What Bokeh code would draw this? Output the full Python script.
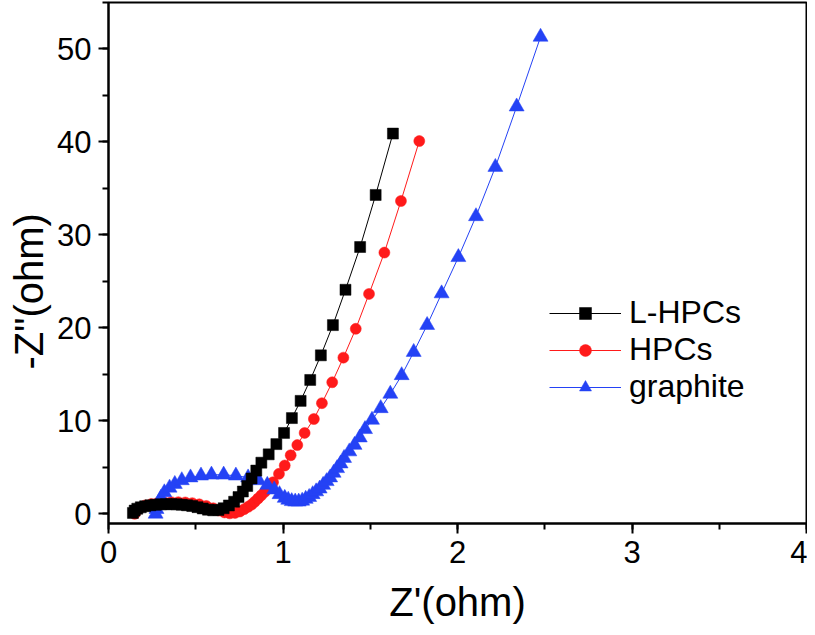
from bokeh.plotting import figure
from bokeh.models import (ColumnDataSource, Legend, LegendItem, Title,
                          SingleIntervalTicker, Range1d)
from bokeh.embed import file_html
from bokeh.resources import INLINE

# ---- data ----
lhpcs_x = [0.14, 0.15, 0.165, 0.185, 0.21, 0.24, 0.27, 0.30, 0.33, 0.36, 0.39, 0.42,
           0.45, 0.48, 0.51, 0.54, 0.57, 0.60, 0.63, 0.66, 0.69, 0.72, 0.745, 0.77,
           0.795, 0.82, 0.847, 0.876, 0.918, 0.962, 1.006, 1.051, 1.101, 1.156,
           1.217, 1.286, 1.358, 1.442, 1.531, 1.630]
lhpcs_y = [0.1, 0.35, 0.55, 0.7, 0.82, 0.92, 0.98, 1.02, 1.04, 1.04, 1.02, 0.98,
           0.92, 0.84, 0.72, 0.58, 0.45, 0.38, 0.42, 0.6, 0.9, 1.3, 1.8, 2.4,
           3.0, 3.8, 4.65, 5.5, 6.4, 7.5, 8.7, 10.3, 12.15, 14.4,
           17.05, 20.3, 24.1, 28.7, 34.3, 40.9]

hpcs_x = [0.15, 0.16, 0.18, 0.21, 0.245, 0.28, 0.32, 0.36, 0.40, 0.44, 0.48, 0.52,
          0.56, 0.60, 0.635, 0.665, 0.695, 0.725, 0.752, 0.778, 0.80, 0.82, 0.838,
          0.857, 0.876, 0.895, 0.914, 0.943, 0.977, 1.01, 1.044, 1.082, 1.124,
          1.177, 1.223, 1.282, 1.346, 1.417, 1.493, 1.581, 1.676, 1.781]
hpcs_y = [0.0, 0.35, 0.65, 0.9, 1.05, 1.15, 1.22, 1.25, 1.25, 1.22, 1.15, 1.02,
          0.85, 0.6, 0.35, 0.15, 0.05, 0.1, 0.25, 0.5, 0.75, 1.0, 1.3,
          1.65, 2.0, 2.35, 2.7, 3.4, 4.3, 5.2, 6.3, 7.4, 8.7,
          10.2, 11.9, 14.15, 16.8, 19.9, 23.65, 28.1, 33.65, 40.1]

graphite_x = [0.27, 0.275, 0.285, 0.30, 0.32, 0.35, 0.38, 0.42, 0.47, 0.53, 0.59, 0.66,
              0.73, 0.80, 0.86, 0.91, 0.95, 0.98, 1.01, 1.03, 1.05, 1.07, 1.09, 1.11,
              1.13, 1.15, 1.17, 1.19, 1.21, 1.23, 1.25, 1.27, 1.29, 1.31, 1.33, 1.35,
              1.38, 1.41, 1.44, 1.47, 1.51, 1.56, 1.615, 1.68, 1.749, 1.826, 1.909,
              2.005, 2.106, 2.217, 2.339, 2.476]
graphite_y = [0.0, 0.5, 1.1, 1.7, 2.3, 2.8, 3.2, 3.6, 3.9, 4.1, 4.2, 4.2,
              4.1, 3.9, 3.6, 3.1, 2.6, 2.1, 1.7, 1.5, 1.35, 1.3, 1.3, 1.4,
              1.6, 1.8, 2.1, 2.4, 2.7, 3.1, 3.5, 3.9, 4.4, 4.9, 5.4, 6.0,
              6.7, 7.4, 8.2, 9.1, 10.1, 11.35, 12.9, 14.9, 17.4, 20.3, 23.7,
              27.6, 32.0, 37.3, 43.8, 51.3]

x_ticks_interval = 1
y_ticks_interval = 10

p = figure(width=807, height=627, output_backend="svg", toolbar_location=None,
           x_range=Range1d(0, 4), y_range=Range1d(-1.04, 55.0),
           min_border_left=107, min_border_right=1, min_border_top=2,
           min_border_bottom=104)

p.background_fill_color = "white"
p.border_fill_color = "white"
p.grid.visible = False
p.outline_line_color = "black"
p.outline_line_width = 2

series = [
    ("HPCs", hpcs_x, hpcs_y, "#ff1a1a", "circle", 11),
    ("graphite", graphite_x, graphite_y, "#2442f5", "triangle", 15),
    ("L-HPCs", lhpcs_x, lhpcs_y, "#000000", "square", 11),
]
items = {}
for name, xs, ys, col, mk, sz in series:
    src = ColumnDataSource(dict(x=xs, y=ys))
    lr = p.line("x", "y", source=src, line_color=col, line_width=1)
    sr = p.scatter("x", "y", source=src, marker=mk, size=sz,
                   fill_color=col, line_color=col, line_width=0.5)
    items[name] = [lr, sr]

for ax, interval in ((p.xaxis, x_ticks_interval), (p.yaxis, y_ticks_interval)):
    ax.ticker = SingleIntervalTicker(interval=interval, num_minor_ticks=2)
    ax.axis_line_width = 2
    ax.axis_line_color = "black"
    ax.major_tick_line_width = 2
    ax.minor_tick_line_width = 2
    ax.major_tick_in = 0
    ax.major_tick_out = 10
    ax.minor_tick_in = 0
    ax.minor_tick_out = 6
    ax.major_label_text_font = "Liberation Sans"
    ax.major_label_text_font_size = "31px"
    ax.major_label_text_color = "black"

p.xaxis.major_label_standoff = 7
p.yaxis.major_label_standoff = 7

p.xaxis.axis_label = "Z'(ohm)"
p.xaxis.axis_label_text_font = "Liberation Sans"
p.xaxis.axis_label_text_font_size = "40px"
p.xaxis.axis_label_text_font_style = "normal"
p.xaxis.axis_label_text_color = "black"
p.xaxis.axis_label_standoff = 14

ytitle = Title(text='-Z"(ohm)', align="left", offset=154, standoff=8,
               text_font="Liberation Sans", text_font_size="40px",
               text_font_style="normal", text_color="black")
p.add_layout(ytitle, "left")

legend = Legend(items=[
    LegendItem(label="L-HPCs", renderers=items["L-HPCs"]),
    LegendItem(label="HPCs", renderers=items["HPCs"]),
    LegendItem(label="graphite", renderers=items["graphite"]),
], location=(441, 118))
legend.background_fill_alpha = 0
legend.border_line_alpha = 0
legend.padding = 0
legend.margin = 0
legend.spacing = -2
legend.glyph_width = 72
legend.glyph_height = 30
legend.label_height = 30
legend.label_standoff = 8
legend.label_text_font = "Liberation Sans"
legend.label_text_font_size = "32px"
legend.label_text_color = "black"
p.add_layout(legend)

open("out.html", "w").write(file_html(p, INLINE))
